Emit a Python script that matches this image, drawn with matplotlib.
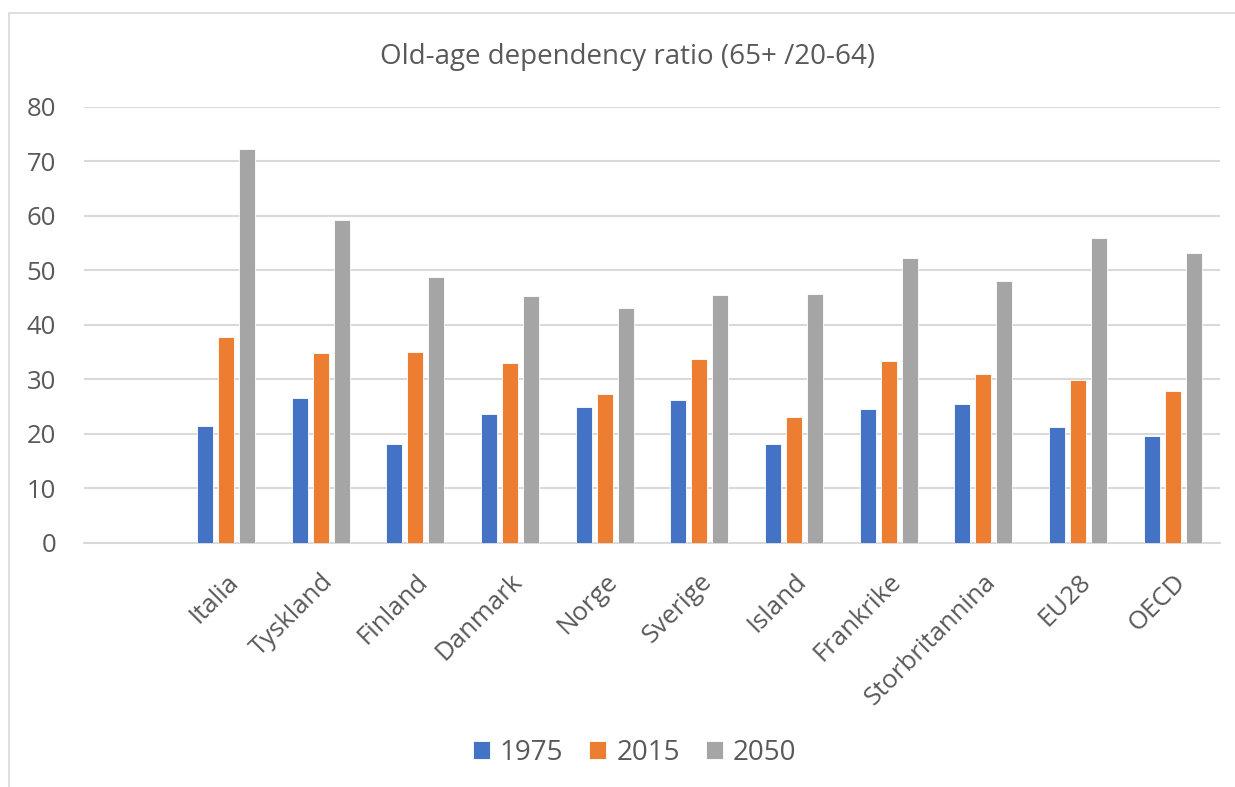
import matplotlib
matplotlib.use("Agg")
import matplotlib.pyplot as plt
from matplotlib.patches import Rectangle
import numpy as np

categories = ["", "Italia", "Tyskland", "Finland", "Danmark", "Norge", "Sverige",
              "Island", "Frankrike", "Storbritannina", "EU28", "OECD"]
series_names = ["1975", "2015", "2050"]
v1975 = [None, 21.5, 26.5, 18.1, 23.6, 24.9, 26.2, 18.1, 24.5, 25.5, 21.2, 19.5]
v2015 = [None, 37.7, 34.8, 35.0, 32.9, 27.3, 33.7, 23.1, 33.3, 30.9, 29.9, 27.8]
v2050 = [None, 72.3, 59.2, 48.8, 45.3, 43.0, 45.5, 45.6, 52.2, 48.0, 55.9, 53.1]
yticks = [0, 10, 20, 30, 40, 50, 60, 70, 80]

colors = ["#4472C4", "#ED7D31", "#A5A5A5"]
txt = "#595959"
font = "Open Sans"

fig = plt.figure(figsize=(12.35, 7.87), dpi=100)
W, H = 1235, 787
ax = fig.add_axes([84 / W, 1 - 542.7 / H, (1220 - 84) / W, (542.7 - 106.7) / H])

# chart border
fig.patches.append(Rectangle((9 / W, -0.05), 1.1, 1 - 12.7 / H + 0.05,
                             transform=fig.transFigure, fill=False,
                             edgecolor="#D9D9D9", linewidth=1.2))

x = np.arange(len(categories))
bw = 0.172
step = 0.222
all_series = [v1975, v2015, v2050]
for i, (vals, c, name) in enumerate(zip(all_series, colors, series_names)):
    xs = [xi + (i - 1) * step for xi, v in zip(x, vals) if v is not None]
    hs = [v for v in vals if v is not None]
    ax.bar(xs, hs, width=bw, color=c, edgecolor="white", linewidth=0.6,
           label=name, zorder=3)

ax.set_xlim(-0.5, len(categories) - 0.5)
ax.set_ylim(0, 80)
ax.set_yticks(yticks)
ax.set_yticklabels([str(t) for t in yticks], fontsize=18.5, color=txt, family=font)
ax.yaxis.grid(True, color="#D9D9D9", linewidth=1.5, zorder=0)
ax.set_axisbelow(True)
for s in ["top", "right", "left"]:
    ax.spines[s].set_visible(False)
ax.spines["bottom"].set_color("#D9D9D9")
ax.spines["bottom"].set_linewidth(1.5)
ax.tick_params(axis="y", length=0, pad=20)
ax.tick_params(axis="x", length=0, pad=19)

ax.set_xticks(x)
ax.set_xticklabels(categories, rotation=45, ha="right", va="top",
                   rotation_mode="anchor", fontsize=18.5, color=txt, family=font)

fig.text(628 / W, 1 - 57 / H, "Old-age dependency ratio (65+ /20-64)",
         ha="center", va="center", fontsize=20, color=txt, family=font)

leg = fig.legend(loc="center", bbox_to_anchor=(634.5 / W, 1 - 753 / H), ncol=3,
                 frameon=False, prop={"family": font, "size": 20},
                 handlelength=0.62, handleheight=0.62, handletextpad=0.36,
                 columnspacing=0.93, borderpad=0, borderaxespad=0)
for t in leg.get_texts():
    t.set_color(txt)

fig.savefig("out.png", dpi=100, facecolor="white")
